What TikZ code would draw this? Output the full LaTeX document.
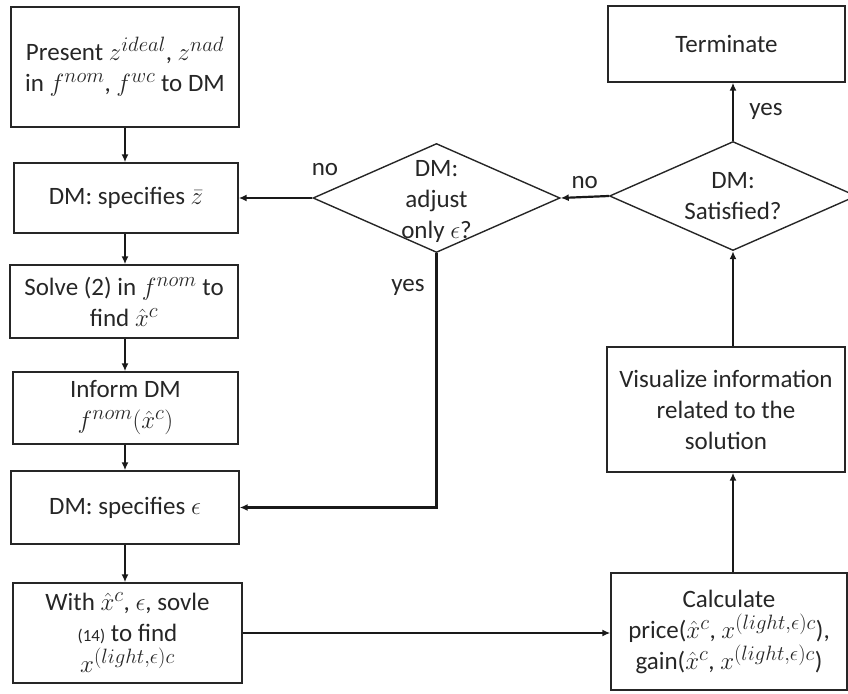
\documentclass[tikz,border=0pt]{standalone}
\usepackage{amsmath,amssymb}
\usepackage{fontspec}
\setmainfont{Carlito}
\usepackage{tikz}
\usetikzlibrary{arrows.meta,positioning,shapes.geometric}
\DeclareMathSizes{25}{27}{20}{16}

\begin{document}
\begin{tikzpicture}[
  x=1pt, y=-1pt, font=\fontsize{25}{31}\selectfont, text=black!85,
  b/.style={draw=black!85, line width=1.4pt, align=center, minimum width=228pt, inner sep=2pt},
  dm/.style={draw=black!85, diamond, line width=1.4pt, inner sep=0pt, minimum width=247pt, minimum height=109pt},
  pf/.style={draw=black!90, line width=2.2pt, -{Latex[length=8pt,width=7pt]}}
]
\useasboundingbox (0,0) rectangle (848,693);
% left column
\node[b, minimum height=120pt] (present) at (125,67) {Present $z^{ideal}$, $z^{nad}$\\in $f^{nom}$, $f^{wc}$ to DM};
\node[b, minimum height=70pt, minimum width=224pt] (zbar) at (126,198) {DM: specifies\ $\bar{z}$};
\node[b, minimum height=73pt] (solve) at (124,301.5) {Solve (2) in $f^{nom}$ to\\find $\hat{x}^c$};
\node[b, minimum height=72pt, minimum width=225pt] (inform) at (125.5,408) {Inform DM\\$f^{nom}(\hat{x}^c)$};
\node[b, minimum height=73pt] (eps) at (125,507.5) {DM: specifies $\epsilon$};
\node[b, minimum height=100pt, minimum width=229pt] (with) at (127.5,633) {With $\hat{x}^c$, $\epsilon$, sovle\\{\fontsize{17}{20}\selectfont(14)} to find\\$x^{(light,\epsilon)c}$};
% right column
\node[b, minimum height=76pt, minimum width=237pt] (term) at (726.5,44) {Terminate};
\node[dm] (sat) at (733,196) {};
\node[align=center] (sattxt) at (sat.center) {DM:\\Satisfied?};
\node[b, minimum height=125pt, minimum width=238pt] (vis) at (726,409.5) {Visualize information\\related to the\\solution};
\node[b, minimum height=117pt, minimum width=236pt] (calc) at (729,631.5) {Calculate\\price($\hat{x}^c$, $x^{(light,\epsilon)c}$),\\gain($\hat{x}^c$, $x^{(light,\epsilon)c}$)};
% middle decision
\node[dm] (adj) at (436.5,198) {};
\node[align=center] (adjtxt) at (436.5,201) {DM:\\adjust\\only $\epsilon$?};
% connectors
\draw[pf] (present.south -| eps) -- (zbar.north -| eps);
\draw[pf] (zbar.south -| eps) -- (solve.north -| eps);
\draw[pf] (solve.south -| eps) -- (inform.north -| eps);
\draw[pf] (inform.south -| eps) -- (eps.north);
\draw[pf] (eps.south) -- (with.north -| eps);
\draw[pf] (with.east) -- (with.east -| calc.west);
\draw[pf] (calc.north -| sat) -- (vis.south -| sat);
\draw[pf] (vis.north -| sat) -- (sat.south);
\draw[pf] (sat.north) -- node[right=12pt] (yes1) {yes} (term.south -| sat);
\draw[pf] (sat.west) -- node[above=4pt] (no1) {no} (adj.east);
\draw[pf] (adj.west) -- (zbar.east |- adj.west);
\node (no2) at (325,170) {no};
\draw[pf] (adj.south) |- (eps.east);
\node (yes2) at (408,287) {yes};
\end{tikzpicture}
\end{document}
